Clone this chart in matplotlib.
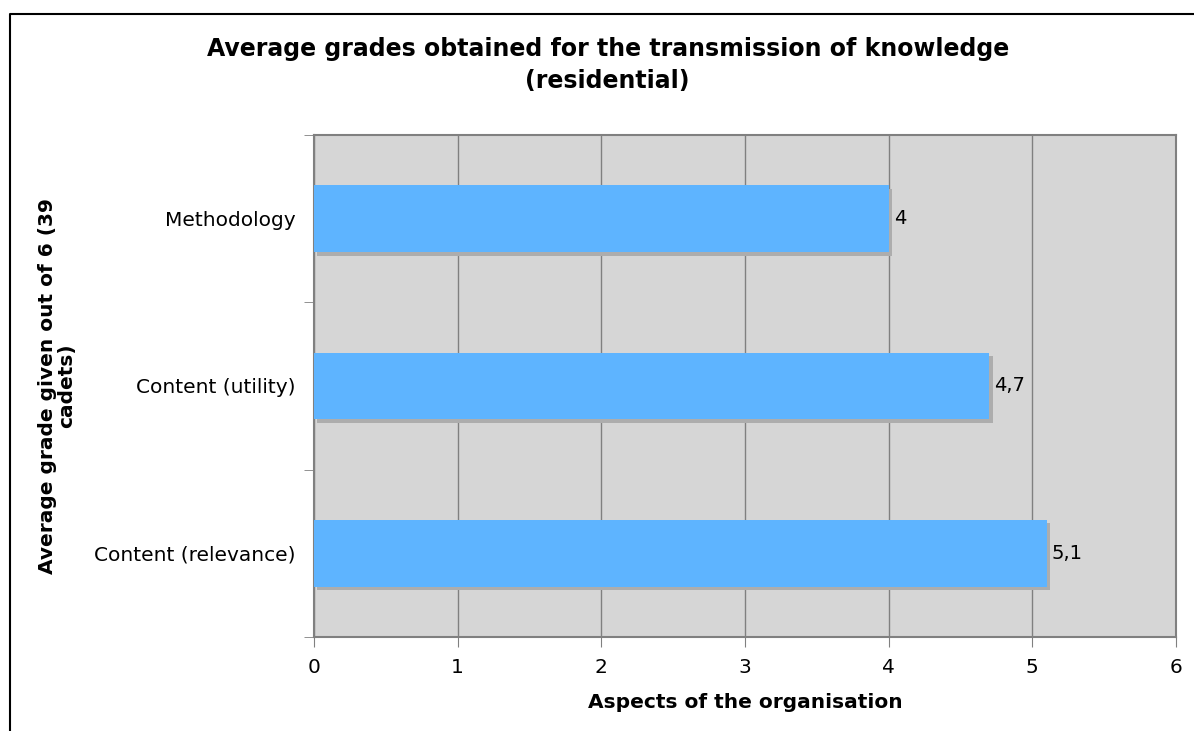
import matplotlib
matplotlib.use("Agg")
import matplotlib.pyplot as plt
import matplotlib.patheffects as pe
from matplotlib.lines import Line2D
import numpy as np

# 数据
categories = ["Methodology", "Content (utility)", "Content (relevance)"]
grades = [4.0, 4.7, 5.1]
value_labels = ["4", "4,7", "5,1"]

plt.rcParams['font.family'] = ['DejaVu Sans']

fig = plt.figure(figsize=(11.94, 7.31), dpi=100)
ax = fig.add_axes([314 / 1194, 1 - 637 / 731, (1176 - 314) / 1194, (637 - 135) / 731])
ax.set_facecolor('#d6d6d6')

y = np.arange(len(categories))
bars = ax.barh(y, grades, height=0.4, color='#5eb4ff', zorder=3)
for b in bars:
    b.set_path_effects([pe.SimplePatchShadow(offset=(2.5, -2.5), shadow_rgbFace='#adadad', alpha=1.0),
                        pe.Normal()])

for yi, g, lab in zip(y, grades, value_labels):
    ax.text(g + 0.035, yi, lab, va='center', ha='left', fontsize=14, zorder=4)

ax.set_xlim(0, 6)
ax.set_ylim(len(categories) - 0.5, -0.5)
ax.set_xticks(range(0, 7))
ax.set_yticks(y)
ax.set_yticklabels(categories, fontsize=14.5)
ax.set_yticks(np.arange(-0.5, len(categories)), minor=True)
ax.tick_params(axis='y', which='major', length=0, pad=13)
ax.tick_params(axis='y', which='minor', length=7, color='#808080')
ax.tick_params(axis='x', length=7, color='#808080', labelsize=14.5, pad=8)
ax.grid(axis='x', color='#808080', linewidth=1.0, zorder=1)
ax.set_axisbelow(True)
for s in ax.spines.values():
    s.set_color('#808080')
    s.set_linewidth(1.5)

ax.set_xlabel("Aspects of the organisation", fontsize=14.5, fontweight='bold', labelpad=12)
ax.set_ylabel("Average grade given out of 6 (39\ncadets)", fontsize=14.5, fontweight='bold',
              linespacing=1.0)
ax.yaxis.set_label_coords(-0.276, 0.5)

fig.text(0.509, 0.911, "Average grades obtained for the transmission of knowledge\n(residential)",
         ha='center', va='center', fontsize=17, fontweight='bold', linespacing=1.45)

# 外框
bx, by = 10 / 1194, 1 - 14 / 731
fig.add_artist(Line2D([bx, bx, 1.0], [0.0, by, by], transform=fig.transFigure,
                      color='black', linewidth=1.5))

fig.savefig('out.png', dpi=100)
